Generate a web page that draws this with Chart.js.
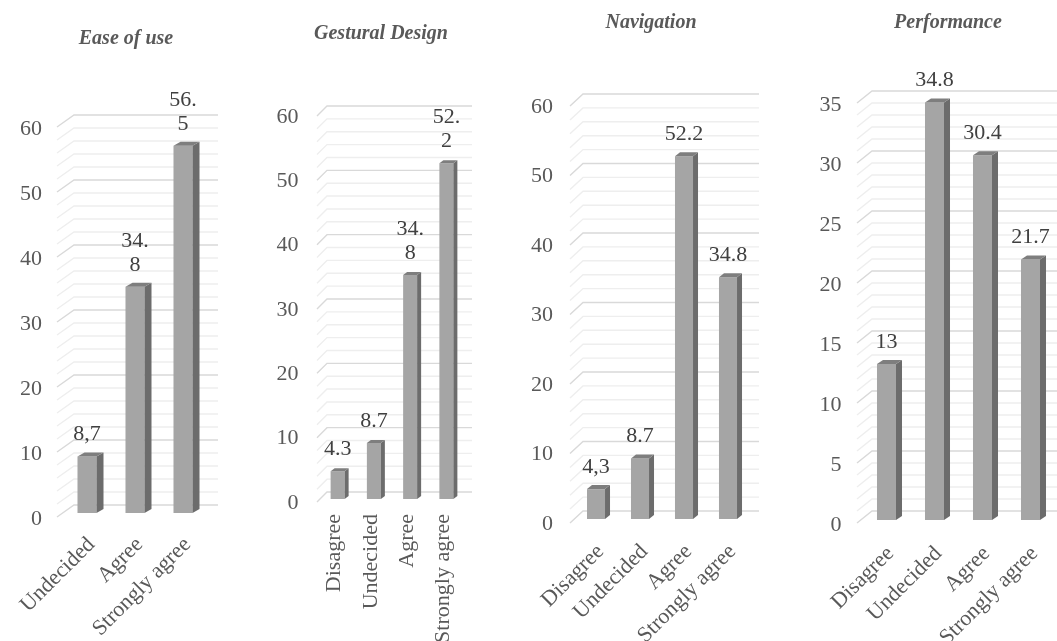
<!DOCTYPE html>
<html>
<head>
<meta charset="utf-8">
<script src="https://cdn.jsdelivr.net/npm/chart.js@4.4.0/dist/chart.umd.min.js"></script>
<style>
  html, body { margin: 0; padding: 0; background: #ffffff; }
  #wrap { position: relative; width: 1057px; height: 641px; overflow: hidden; background: #ffffff; }
  #wrap canvas { position: absolute; top: 0; }
  .ttl { position: absolute; width: 240px; text-align: center; line-height: 24px; height: 24px;
         font: italic bold 20px "Liberation Serif", "Times New Roman", serif; color: #595959; white-space: nowrap; }
</style>
</head>
<body>
<div id="wrap">
  <canvas id="c1" width="250" height="641" style="left:0px"></canvas>
  <canvas id="c2" width="250" height="641" style="left:250px"></canvas>
  <canvas id="c3" width="270" height="641" style="left:500px"></canvas>
  <canvas id="c4" width="287" height="641" style="left:770px"></canvas>
</div>
<script>
// ---------- DATA ----------
const chartTitles = ['Ease of use', 'Gestural Design', 'Navigation', 'Performance'];

const easeCategories = ['Undecided', 'Agree', 'Strongly agree'];
const easeValues = [8.7, 34.8, 56.5];
const easeLabels = ['8,7', ['34.', '8'], ['56.', '5']];

const gesturalCategories = ['Disagree', 'Undecided', 'Agree', 'Strongly agree'];
const gesturalValues = [4.3, 8.7, 34.8, 52.2];
const gesturalLabels = ['4.3', '8.7', ['34.', '8'], ['52.', '2']];

const navigationCategories = ['Disagree', 'Undecided', 'Agree', 'Strongly agree'];
const navigationValues = [4.3, 8.7, 52.2, 34.8];
const navigationLabels = ['4,3', '8.7', '52.2', '34.8'];

const performanceCategories = ['Disagree', 'Undecided', 'Agree', 'Strongly agree'];
const performanceValues = [13, 34.8, 30.4, 21.7];
const performanceLabels = ['13', '34.8', '30.4', '21.7'];

const axisMax = [60, 60, 60, 35];
const axisStep = [10, 10, 10, 5];
const axisMinor = [2, 2, 2, 1];

// ---------- LAYOUT / STYLE ----------
const FONT = '"Liberation Serif", "Times New Roman", serif';
const panels = [
  { id: 'c1', cats: easeCategories, vals: easeValues, labs: easeLabels, k: 0,
    cl: 0, cw: 250, left: 63, right: 207, top: 123, bottom: 513,
    wall: { fx: 6, fy: 4, wx: 11, wy: 8 }, depth: { bx: 7, by: 4 }, barPct: 0.396,
    rot: 45, xPad: 19, xOff: 4.5, yPad: 21, yOff: 6, tx: 126, ty: 38 },
  { id: 'c2', cats: gesturalCategories, vals: gesturalValues, labs: gesturalLabels, k: 1,
    cl: 250, cw: 250, left: 319.5, right: 464.5, top: 113, bottom: 499,
    wall: { fx: 2.5, fy: 3, wx: 7.5, wy: 7 }, depth: { bx: 4, by: 3 }, barPct: 0.386,
    rot: 90, xPad: 15, xOff: -3, yPad: 21, yOff: 4, tx: 381, ty: 33 },
  { id: 'c3', cats: navigationCategories, vals: navigationValues, labs: navigationLabels, k: 2,
    cl: 500, cw: 270, left: 574, right: 750, top: 102, bottom: 519,
    wall: { fx: 4, fy: 4, wx: 9, wy: 8 }, depth: { bx: 5, by: 4 }, barPct: 0.41,
    rot: 45, xPad: 20, xOff: 4.5, yPad: 21, yOff: 5, tx: 651, ty: 22 },
  { id: 'c4', cats: performanceCategories, vals: performanceValues, labs: performanceLabels, k: 3,
    cl: 770, cw: 287, left: 862.5, right: 1054.5, top: 100, bottom: 520,
    wall: { fx: 5.5, fy: 3, wx: 9.5, wy: 9 }, depth: { bx: 6, by: 4 }, barPct: 0.396,
    rot: 45, xPad: 21, xOff: 4, yPad: 21, yOff: 5, tx: 948, ty: 22 }
];

function makeDecor(p) {
  const max = axisMax[p.k], step = axisStep[p.k], minor = axisMinor[p.k];
  return {
    id: 'decor_' + p.id,
    beforeDatasetsDraw(chart) {
      const ys = chart.scales.y, a = chart.chartArea, ctx = chart.ctx, w = p.wall;
      ctx.save();
      ctx.lineWidth = 1.4;
      const n = Math.round(max / minor);
      [false, true].forEach(drawMajor => {
        for (let i = 0; i <= n; i++) {
          const v = i * minor;
          const major = Math.abs(v % step) < 1e-9;
          if (major !== drawMajor) continue;
          const py = ys.getPixelForValue(v);
          ctx.strokeStyle = major ? '#d9d9d9' : '#eeeeee';
          ctx.beginPath();
          ctx.moveTo(a.left - w.fx, py + w.fy);
          ctx.lineTo(a.left + w.wx, py - w.wy);
          ctx.lineTo(a.right + w.wx, py - w.wy);
          ctx.stroke();
        }
      });
      ctx.restore();
    },
    afterDatasetsDraw(chart) {
      const meta = chart.getDatasetMeta(0), ctx = chart.ctx, d = p.depth;
      ctx.save();
      meta.data.forEach((bar, i) => {
        const pr = bar.getProps(['x', 'y', 'base', 'width'], true);
        const l = pr.x - pr.width / 2, r = pr.x + pr.width / 2;
        // side face
        ctx.fillStyle = '#6c6c6c';
        ctx.beginPath();
        ctx.moveTo(r, pr.y);
        ctx.lineTo(r + d.bx, pr.y - d.by);
        ctx.lineTo(r + d.bx, pr.base - d.by);
        ctx.lineTo(r, pr.base);
        ctx.closePath();
        ctx.fill();
        // top face
        ctx.fillStyle = '#7e7e7e';
        ctx.beginPath();
        ctx.moveTo(l, pr.y);
        ctx.lineTo(l + d.bx, pr.y - d.by);
        ctx.lineTo(r + d.bx, pr.y - d.by);
        ctx.lineTo(r, pr.y);
        ctx.closePath();
        ctx.fill();
        // data label
        const lab = p.labs[i];
        const lines = Array.isArray(lab) ? lab : [lab];
        ctx.fillStyle = '#404040';
        ctx.font = '22px ' + FONT;
        ctx.textAlign = 'center';
        ctx.textBaseline = 'middle';
        lines.forEach((t, j) => {
          const yy = pr.y - 22 - (lines.length - 1 - j) * 24;
          ctx.fillText(t, pr.x, yy);
        });
      });
      ctx.restore();
    }
  };
}

panels.forEach(p => {
  const t = document.createElement('div');
  t.className = 'ttl';
  t.textContent = chartTitles[p.k];
  t.style.left = (p.tx - 120) + 'px';
  t.style.top = (p.ty - 12) + 'px';
  document.getElementById('wrap').appendChild(t);

  new Chart(document.getElementById(p.id), {
    type: 'bar',
    data: {
      labels: p.cats,
      datasets: [{
        data: p.vals,
        backgroundColor: '#a5a5a5',
        borderWidth: 0,
        barPercentage: p.barPct,
        categoryPercentage: 1
      }]
    },
    options: {
      responsive: false,
      animation: false,
      devicePixelRatio: 1,
      layout: { padding: { top: p.top, bottom: 0, left: 0, right: p.cl + p.cw - p.right } },
      plugins: { legend: { display: false }, tooltip: { enabled: false }, title: { display: false } },
      scales: {
        x: {
          grid: { display: false, drawTicks: false },
          border: { display: false },
          ticks: {
            autoSkip: false, minRotation: p.rot, maxRotation: p.rot,
            padding: p.xPad, labelOffset: p.xOff,
            color: '#595959', font: { family: FONT, size: 22 }
          },
          afterFit(s) { s.height = 641 - p.bottom; s.paddingLeft = 0; s.paddingRight = 0; }
        },
        y: {
          min: 0, max: axisMax[p.k],
          grid: { display: false, drawTicks: false },
          border: { display: false },
          ticks: {
            stepSize: axisStep[p.k], padding: p.yPad, labelOffset: p.yOff,
            color: '#595959', font: { family: FONT, size: 22 }
          },
          afterFit(s) { s.width = p.left - p.cl; s.paddingTop = 0; s.paddingBottom = 0; }
        }
      }
    },
    plugins: [makeDecor(p)]
  });
});
</script>
</body>
</html>
